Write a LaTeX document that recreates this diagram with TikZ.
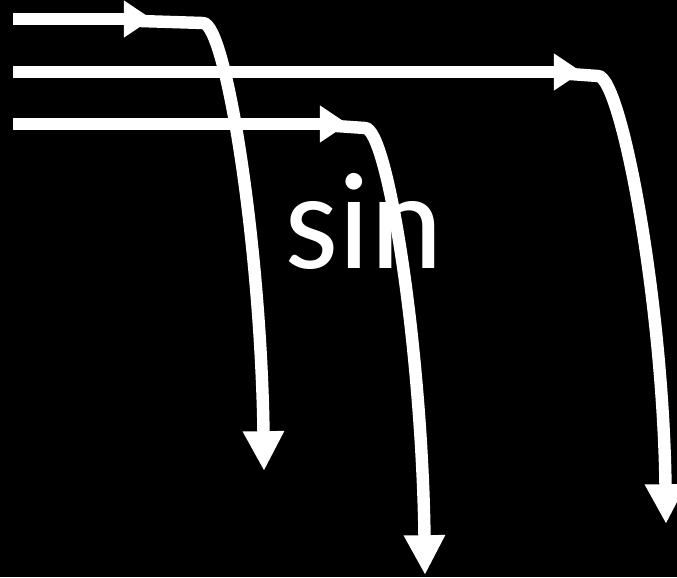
\documentclass[tikz,border=0pt]{standalone}
\usetikzlibrary{arrows.meta, calc}
\usepackage{fontspec}
\setmainfont{Carlito}
\tikzset{
  flow/.style={white, line width=10.6pt},
  inhead/.style={-{Triangle[length=24pt, width=30pt]}},
  outhead/.style={-{Triangle[length=34pt, width=33pt]}}
}

\begin{document}
\begin{tikzpicture}[x=0.03cm, y=-0.03cm]
  \useasboundingbox (0,0) rectangle (677,577);
  \fill[black] (0,0) rectangle (677,577);
  \node[anchor=base, text=white, inner sep=0pt, font=\fontsize{118}{124}\selectfont]
    (sin) at (364,268) {sin};
  \foreach \i/\y/\tx/\cx/\bx/\by in {
    1/19/152/203/264/471,
    2/72/582/598/666/524,
    3/124/348/365/425/575
  } {
    \coordinate (in\i) at (13,\y);
    \coordinate (mid\i) at (\tx,\y);
    \coordinate (bend\i) at (\cx,\y+4);
    \coordinate (out\i) at (\bx,\by);
    \draw[flow, inhead] (in\i) -- (mid\i);
    \draw[flow, outhead] ($(mid\i)+(-12,2)$) -- (bend\i)
      .. controls +(23,0) and +(-3,-225) .. (out\i);
  }
\end{tikzpicture}
\end{document}
